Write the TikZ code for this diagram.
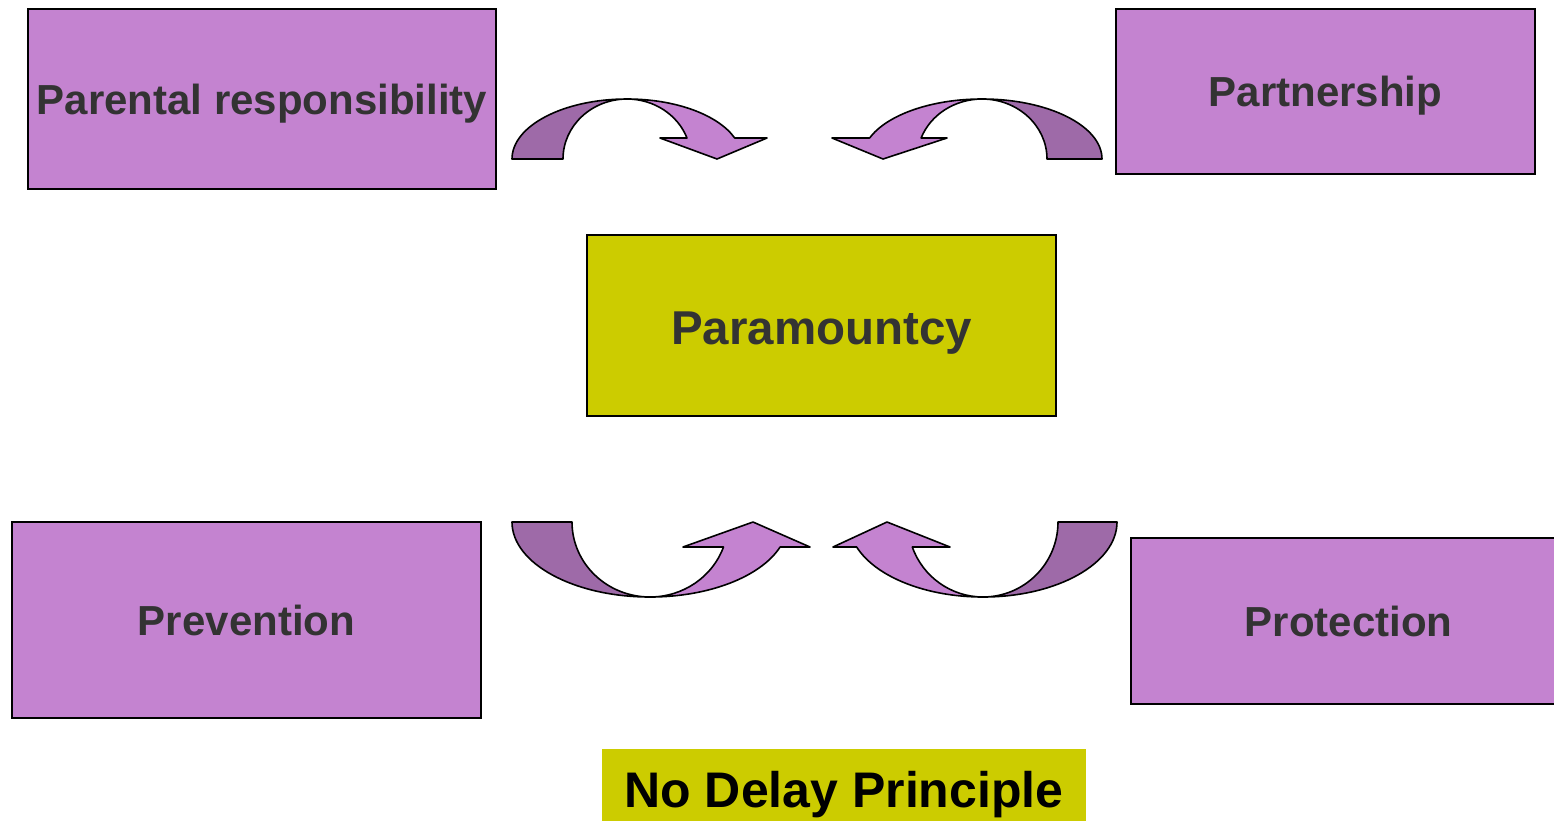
\documentclass[tikz,border=0pt]{standalone}
\usepackage{fontspec}
\setmainfont{Liberation Sans}
\usepackage{xcolor}
\usetikzlibrary{positioning}

\definecolor{boxpurple}{RGB}{196,131,208}
\definecolor{backpurple}{RGB}{158,106,168}
\definecolor{olive}{RGB}{204,204,0}
\definecolor{textgray}{RGB}{51,51,51}

\tikzset{
  purplebox/.style={draw=black, line width=0.9pt, fill=boxpurple, text=textgray,
    font=\fontsize{21}{25}\selectfont\bfseries, inner sep=0pt, text height=15pt, text depth=0pt},
  centrebox/.style={draw=black, line width=0.9pt, fill=olive, text=textgray,
    font=\fontsize{23.75}{28}\selectfont\bfseries, inner sep=0pt, text height=19pt, text depth=0pt},
  backband/.style={draw=black, line width=0.8pt, fill=backpurple, line join=round},
  frontband/.style={draw=black, line width=0.8pt, fill=boxpurple, line join=round}
}

\begin{document}
\begin{tikzpicture}[x=0.5pt, y=-0.5pt]
    \clip (0,0) rectangle (1554,820);
    \fill[white] (0,0) rectangle (1554,820);

    % principle boxes
    \node[purplebox, minimum width=234pt, minimum height=90pt] (parental) at (262,99) {Parental responsibility};
    \node[purplebox, minimum width=209.5pt, minimum height=82.5pt] (partner) at (1325.5,91.5) {Partnership};
    \node[centrebox, minimum width=234.5pt, minimum height=90.5pt] (paramount) at (821.5,325.5) {Paramountcy};
    \node[purplebox, minimum width=234.5pt, minimum height=98pt] (prevent) at (246.5,620) {Prevention};
    \node[purplebox, minimum width=217.5pt, minimum height=83pt] (protect) at (1348.5,621) {Protection};
    \node[fill=olive, text=black, font=\fontsize{25}{30}\selectfont\bfseries, text height=16pt, text depth=0pt,
          minimum width=242pt, minimum height=42pt, inner sep=0pt] (nodelay) at (844,791) {No Delay Principle};

    % curved arrow, top left
    \draw[backband] (512,159) arc[start angle=180, end angle=270, x radius=115, y radius=60]
        arc[start angle=270, end angle=180, x radius=64, y radius=60] -- cycle;
    \draw[frontband] (627,99) arc[start angle=270, end angle=339.5, x radius=115, y radius=60]
        -- (767,138) -- (717,159) -- (660,138) -- (687,138)
        arc[start angle=339.5, end angle=270, x radius=64, y radius=60] -- cycle;

    % curved arrow, top right
    \draw[backband] (1102,159) arc[start angle=0, end angle=-90, x radius=120, y radius=60]
        arc[start angle=-90, end angle=0, x radius=65, y radius=60] -- cycle;
    \draw[frontband] (982,99) arc[start angle=270, end angle=200.5, x radius=120, y radius=60]
        -- (832,138) -- (883,159) -- (947,138) -- (921.1,138)
        arc[start angle=200.5, end angle=270, x radius=65, y radius=60] -- cycle;

    % curved arrow, bottom left
    \draw[backband] (512,522) arc[start angle=180, end angle=90, x radius=138, y radius=75]
        arc[start angle=90, end angle=180, x radius=78, y radius=75] -- cycle;
    \draw[frontband] (650,597) arc[start angle=90, end angle=19.47, x radius=138, y radius=75]
        -- (810,547) -- (753,522) -- (683,547) -- (723.5,547)
        arc[start angle=19.47, end angle=90, x radius=78, y radius=75] -- cycle;

    % curved arrow, bottom right
    \draw[backband] (1117,522) arc[start angle=0, end angle=90, x radius=134, y radius=75]
        arc[start angle=90, end angle=0, x radius=75, y radius=75] -- cycle;
    \draw[frontband] (983,597) arc[start angle=90, end angle=160.53, x radius=134, y radius=75]
        -- (833,547) -- (887,522) -- (950,547) -- (912.3,547)
        arc[start angle=160.53, end angle=90, x radius=75, y radius=75] -- cycle;
\end{tikzpicture}
\end{document}
